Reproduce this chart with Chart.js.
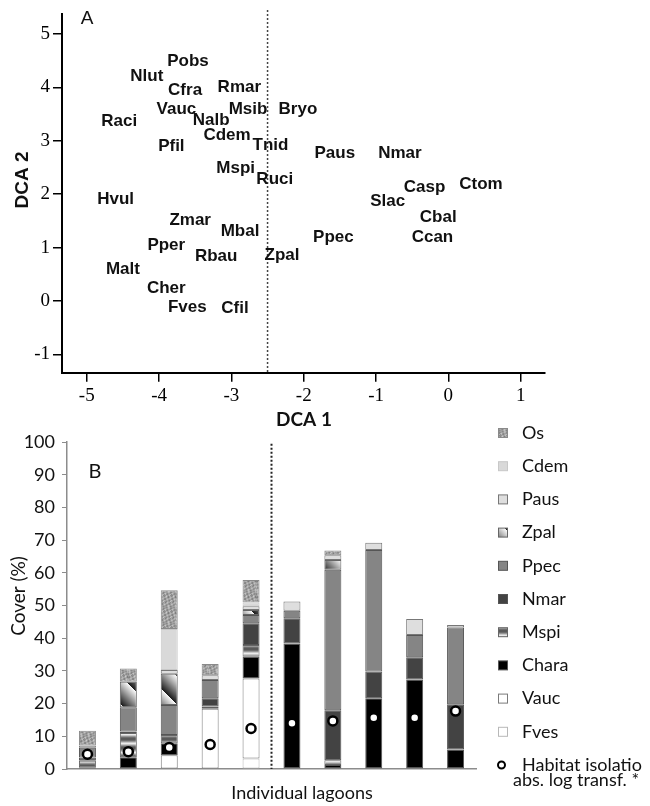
<!DOCTYPE html>
<html>
<head>
<meta charset="utf-8">
<script src="https://cdn.jsdelivr.net/npm/chart.js@4.4.1/dist/chart.umd.min.js"></script>
<style>
  body { margin: 0; background: #fff; width: 650px; height: 806px; position: relative; overflow: hidden; }
  canvas { position: absolute; left: 0; }
  #dcaChart { top: 0; }
  #coverChart { top: 415px; }
</style>
</head>
<body>
<canvas id="dcaChart" width="650" height="430"></canvas>
<canvas id="coverChart" width="650" height="391"></canvas>
<script>
// ---- Panel A: species scores on DCA axes 1 and 2 ----
const species = ['Pobs', 'Nlut', 'Cfra', 'Rmar', 'Vauc', 'Nalb', 'Msib', 'Bryo', 'Raci', 'Cdem', 'Tnid',
  'Pfil', 'Paus', 'Nmar', 'Mspi', 'Ruci', 'Casp', 'Ctom', 'Slac', 'Cbal', 'Ccan', 'Ppec', 'Zpal',
  'Hvul', 'Zmar', 'Mbal', 'Pper', 'Rbau', 'Malt', 'Cher', 'Fves', 'Cfil'];
const dca1 = [-3.60, -4.17, -3.64, -2.89, -3.76, -3.28, -2.77, -2.08, -4.55, -3.06, -2.46,
  -3.83, -1.57, -0.67, -2.94, -2.40, -0.33, 0.45, -0.84, -0.14, -0.22, -1.59, -2.30,
  -4.60, -3.57, -2.88, -3.90, -3.21, -4.50, -3.90, -3.61, -2.95];
const dca2 = [4.49, 4.20, 3.94, 4.00, 3.58, 3.39, 3.59, 3.58, 3.36, 3.10, 2.92,
  2.90, 2.76, 2.77, 2.48, 2.28, 2.12, 2.19, 1.86, 1.57, 1.19, 1.19, 0.86,
  1.90, 1.51, 1.31, 1.04, 0.84, 0.60, 0.24, -0.11, -0.13];
const dca1Ticks = [-5, -4, -3, -2, -1, 0, 1];
const dca2Ticks = [-1, 0, 1, 2, 3, 4, 5];
const dca1Split = -2.5;

// ---- Panel B: cover (%) per lagoon, stacked bottom to top ----
const lagoons = ['1', '2', '3', '4', '5', '6', '7', '8', '9', '10'];
const fves  = [0, 0, 0, 0, 3.2, 0, 0, 0, 0, 0];
const vauc  = [0, 0, 4.2, 18.4, 24.5, 0, 0, 0, 0, 0];
const chara = [0.5, 3.6, 3.7, 0.7, 6.6, 38.4, 1.2, 21.6, 27.4, 6.0];
const mspi  = [2.0, 7.4, 2.5, 0, 3.6, 0, 1.5, 0, 0, 0];
const nmar  = [1.0, 0.5, 0, 2.5, 6.7, 7.7, 15.3, 8.2, 6.8, 13.8];
const ppec  = [3.0, 7.4, 9.2, 5.6, 2.5, 2.3, 42.9, 37.2, 6.8, 23.5];
const zpal  = [0, 7.8, 9.5, 0, 1.5, 0, 3.0, 0, 0, 0];
const paus  = [0.7, 0, 1.2, 1.5, 1.2, 2.8, 1.5, 2.2, 4.9, 0.7];
const cdem  = [0, 0, 12.5, 0, 1.1, 0, 0, 0, 0, 0];
const os    = [4.5, 4.0, 11.9, 3.4, 6.9, 0, 1.4, 0, 0, 0];
const habitatIsolation = [4.5, 5.3, 6.6, 7.5, 12.4, 14.0, 14.7, 15.7, 15.7, 17.7];

// fill patterns for the textured species
function pixelPattern(w, h, shade) {
  const c = document.createElement('canvas');
  c.width = w; c.height = h;
  const g = c.getContext('2d');
  const img = g.createImageData(w, h);
  for (let y = 0; y < h; y++) {
    for (let x = 0; x < w; x++) {
      const v = shade(x, y);
      const k = (y * w + x) * 4;
      img.data[k] = img.data[k + 1] = img.data[k + 2] = v;
      img.data[k + 3] = 255;
    }
  }
  g.putImageData(img, 0, 0);
  return g.createPattern(c, 'repeat');
}
// mottled grey
const osFill = pixelPattern(16, 16, (x, y) =>
  160 + 32 * Math.sin(x * 1.3 + y * 0.7) * Math.cos(y * 1.1 - x * 0.4) + 12 * Math.sin(x * y * 0.9));
// diagonal white-to-black bands
const zpalFill = pixelPattern(28, 28, (x, y) => {
  const t = ((x - y + 28) % 28) / 28;
  return 30 + 225 * t;
});
// horizontal bands with a light centre
const mspiFill = pixelPattern(1, 9, (x, y) => [90, 110, 150, 200, 235, 200, 150, 110, 90][y]);

const stackSeries = [
  { label: 'Fves',  data: fves,  fill: '#ffffff', border: '#b8b8b8' },
  { label: 'Vauc',  data: vauc,  fill: '#ffffff', border: '#7a7a7a' },
  { label: 'Chara', data: chara, fill: '#000000', border: '#555555' },
  { label: 'Mspi',  data: mspi,  fill: mspiFill,  border: '#666666' },
  { label: 'Nmar',  data: nmar,  fill: '#434343', border: '#555555' },
  { label: 'Ppec',  data: ppec,  fill: '#858585', border: '#555555' },
  { label: 'Zpal',  data: zpal,  fill: zpalFill,  border: '#666666' },
  { label: 'Paus',  data: paus,  fill: '#dedede', border: '#777777' },
  { label: 'Cdem',  data: cdem,  fill: '#d9d9d9', border: '#c8c8c8' },
  { label: 'Os',    data: os,    fill: osFill,    border: '#8a8a8a' }
];

// ---- Panel A drawing ----
const dcaDecor = {
  id: 'dcaDecor',
  afterDatasetsDraw(chart) {
    const { ctx, scales: { x, y } } = chart;
    ctx.save();
    // dotted split line
    ctx.strokeStyle = '#444';
    ctx.lineWidth = 1.5;
    ctx.setLineDash([2, 2]);
    ctx.beginPath();
    ctx.moveTo(x.getPixelForValue(dca1Split), 10);
    ctx.lineTo(x.getPixelForValue(dca1Split), chart.chartArea.bottom);
    ctx.stroke();
    ctx.setLineDash([]);

    // species names
    ctx.fillStyle = '#111';
    ctx.font = 'bold 17px "Liberation Sans", Arial, sans-serif';
    ctx.textAlign = 'center';
    ctx.textBaseline = 'middle';
    species.forEach((name, i) => {
      ctx.fillText(name, x.getPixelForValue(dca1[i]), y.getPixelForValue(dca2[i]));
    });

    // panel letter and axis titles
    ctx.font = '19px "Liberation Sans", Arial, sans-serif';
    ctx.fillText('A', 87, 19);
    ctx.font = 'bold 19px Lato, sans-serif';
    ctx.fillText('DCA 1', 304, 420);
    ctx.translate(23, 180);
    ctx.rotate(-Math.PI / 2);
    ctx.font = 'bold 19px "Liberation Sans", Arial, sans-serif';
    ctx.fillText('DCA 2', 0, 0);
    ctx.restore();
  }
};

new Chart(document.getElementById('dcaChart'), {
  type: 'scatter',
  data: {
    datasets: [{
      data: species.map((s, i) => ({ x: dca1[i], y: dca2[i] })),
      pointRadius: 0
    }]
  },
  options: {
    responsive: false,
    animation: false,
    layout: { padding: { top: 5, right: 105, left: 0, bottom: 0 } },
    plugins: { legend: { display: false }, tooltip: { enabled: false } },
    scales: {
      x: {
        type: 'linear', min: -5.342, max: 1.336,
        afterBuildTicks: s => { s.ticks = dca1Ticks.map(v => ({ value: v })); },
        afterFit: s => { s.height = 57.3; },
        grid: { drawOnChartArea: false, drawTicks: true, tickLength: 9, color: '#000', lineWidth: 1.5 },
        border: { color: '#000', width: 2 },
        ticks: { color: '#000', padding: 3, maxRotation: 0, font: { family: 'Liberation Serif', size: 19 } }
      },
      y: {
        type: 'linear', min: -1.341, max: 5.365,
        afterBuildTicks: s => { s.ticks = dca2Ticks.map(v => ({ value: v })); },
        afterFit: s => { s.width = 62; },
        grid: { drawOnChartArea: false, drawTicks: true, tickLength: 9, color: '#000', lineWidth: 1.5 },
        border: { color: '#000', width: 2 },
        ticks: { color: '#000', padding: 3, font: { family: 'Liberation Serif', size: 19 } }
      }
    }
  },
  plugins: [dcaDecor]
});

// ---- Panel B drawing ----
const coverDecor = {
  id: 'coverDecor',
  afterDraw(chart) {
    const { ctx, scales: { x, y } } = chart;
    ctx.save();
    // dotted divider between lagoon 5 and 6
    const xs = (x.getPixelForValue(4) + x.getPixelForValue(5)) / 2;
    ctx.strokeStyle = '#222';
    ctx.lineWidth = 2;
    ctx.setLineDash([2, 2]);
    ctx.beginPath();
    ctx.moveTo(xs, y.getPixelForValue(99.5));
    ctx.lineTo(xs, y.getPixelForValue(0));
    ctx.stroke();
    ctx.setLineDash([]);

    ctx.fillStyle = '#111';
    ctx.textBaseline = 'middle';
    ctx.textAlign = 'center';
    ctx.font = '20px Lato, sans-serif';
    ctx.fillText('B', 95, 57);
    ctx.font = '18px Lato, sans-serif';
    ctx.fillText('Individual lagoons', 302, 378);
    ctx.save();
    ctx.translate(19, 181);
    ctx.rotate(-Math.PI / 2);
    ctx.font = '19px Lato, sans-serif';
    ctx.fillText('Cover (%)', 0, 0);
    ctx.restore();

    // legend, top entry = top of the stack
    ctx.textAlign = 'left';
    ctx.font = '18px Lato, sans-serif';
    const items = stackSeries.slice().reverse();
    items.forEach((s, i) => {
      const cy = 18 + i * 33.2;
      ctx.fillStyle = s.fill;
      ctx.fillRect(498.5, cy - 4.5, 9, 9);
      ctx.strokeStyle = s.border;
      ctx.lineWidth = 1;
      ctx.strokeRect(498.5, cy - 4.5, 9, 9);
      ctx.fillStyle = '#111';
      ctx.fillText(s.label, 522, cy);
    });
    const hy = 18 + items.length * 33.2;
    ctx.beginPath();
    ctx.arc(501.5, hy, 3.5, 0, Math.PI * 2);
    ctx.fillStyle = '#fff';
    ctx.fill();
    ctx.strokeStyle = '#000';
    ctx.lineWidth = 2;
    ctx.stroke();
    ctx.fillStyle = '#111';
    ctx.fillText('Habitat isolatio', 522, hy);
    ctx.fillText('abs. log transf. *', 513, hy + 15);
    ctx.restore();
  }
};

new Chart(document.getElementById('coverChart'), {
  type: 'bar',
  data: {
    labels: lagoons,
    datasets: [
      ...stackSeries.map(s => ({
        label: s.label,
        data: s.data,
        backgroundColor: s.fill,
        borderColor: s.border,
        stack: 'cover',
        order: 1
      })),
      {
        type: 'line',
        label: 'Habitat isolation',
        data: habitatIsolation,
        stack: 'iso',
        order: 0,
        showLine: false,
        pointRadius: 4.5,
        pointBackgroundColor: '#fff',
        pointBorderColor: '#000',
        pointBorderWidth: 2.5
      }
    ]
  },
  options: {
    responsive: false,
    animation: false,
    layout: { padding: { top: 27, right: 174, left: 0, bottom: 0 } },
    datasets: { bar: { barPercentage: 0.415, categoryPercentage: 1, borderWidth: 1, borderSkipped: false } },
    plugins: { legend: { display: false }, tooltip: { enabled: false } },
    scales: {
      x: {
        stacked: true,
        grid: { display: false },
        border: { color: '#8c8c8c', width: 1.5 },
        ticks: { display: false },
        afterFit: s => { s.height = 37; }
      },
      y: {
        stacked: true, min: 0, max: 100,
        afterFit: s => { s.width = 67; },
        grid: { drawOnChartArea: false, drawTicks: true, tickLength: 5, color: '#8c8c8c' },
        border: { color: '#8c8c8c', width: 1.5 },
        ticks: { stepSize: 10, color: '#111', padding: 7, font: { family: 'Lato, sans-serif', size: 18 } }
      }
    }
  },
  plugins: [coverDecor]
});
</script>
</body>
</html>
